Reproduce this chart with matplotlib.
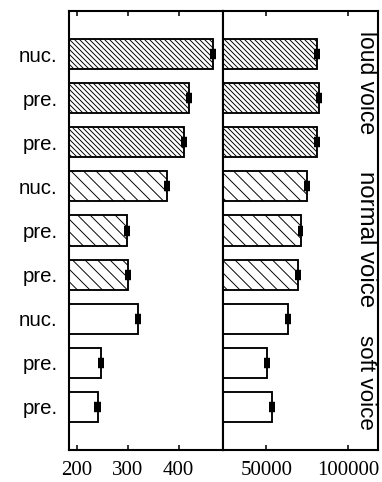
import matplotlib
matplotlib.use('Agg')
import matplotlib.pyplot as plt
import numpy as np

# ---- data ----
labels = ['nuc.', 'pre.', 'pre.', 'nuc.', 'pre.', 'pre.', 'nuc.', 'pre.', 'pre.']
groups = ['loud', 'loud', 'loud', 'normal', 'normal', 'normal', 'soft', 'soft', 'soft']
left_values = [467, 421, 410, 377, 299, 301, 320, 248, 241]
left_errors = [6, 6, 6, 6, 6, 6, 6, 6, 6]
right_values = [81000, 82100, 81300, 75100, 71000, 69300, 63200, 50400, 53300]
right_errors = [1800, 1800, 1800, 1800, 1800, 1800, 1800, 1800, 1800]
left_ticks = [200, 300, 400]
right_ticks = [50000, 100000]
group_names = ['loud voice', 'normal voice', 'soft voice']

hatch_map = {'loud': '\\\\\\\\\\', 'normal': '\\\\', 'soft': ''}

W, H, DPI = 382, 482, 75
plt.rcParams['hatch.linewidth'] = 0.9
fig = plt.figure(figsize=(W / DPI, H / DPI), dpi=DPI)

top_px, bot_px = 11, 450
x0, xm, x1 = 69, 223, 378
axL = fig.add_axes([x0 / W, 1 - bot_px / H, (xm - x0) / W, (bot_px - top_px) / H])
axR = fig.add_axes([xm / W, 1 - bot_px / H, (x1 - xm) / W, (bot_px - top_px) / H])

ypos = np.arange(len(labels))
left_lim = (185, 487)
right_lim = (23500, 118500)

for ax, vals, errs, lim, ticks in [(axL, left_values, left_errors, left_lim, left_ticks),
                                   (axR, right_values, right_errors, right_lim, right_ticks)]:
    for y, v, e, g in zip(ypos, vals, errs, groups):
        ax.barh(y, v - lim[0], left=lim[0], height=0.68, facecolor='white',
                edgecolor='black', linewidth=1.8, hatch=hatch_map[g])
        ax.errorbar(v, y, xerr=e, fmt='none', ecolor='black', elinewidth=10,
                    capsize=0)
    ax.set_xlim(*lim)
    ax.set_ylim(8.975, -0.975)
    ax.set_xticks(ticks)
    ax.set_xticklabels([str(t) for t in ticks], family='Liberation Serif', fontsize=20)
    ax.tick_params(axis='x', direction='in', length=5, width=1.5, top=True, pad=11)
    for s in ax.spines.values():
        s.set_linewidth(2)

axL.set_yticks(ypos)
axL.set_yticklabels(labels, family='Liberation Sans', fontsize=19.5)
axL.tick_params(axis='y', length=0, pad=11)
axR.set_yticks([])

label_px = [83, 239, 382]
sizes = [22, 23, 21.5]
for name, yp, fs in zip(group_names, label_px, sizes):
    fig.text(366 / W, 1 - yp / H, name, rotation=-90, ha='center', va='center',
             family='Liberation Sans', fontsize=fs)

fig.savefig('out.png', dpi=DPI)
